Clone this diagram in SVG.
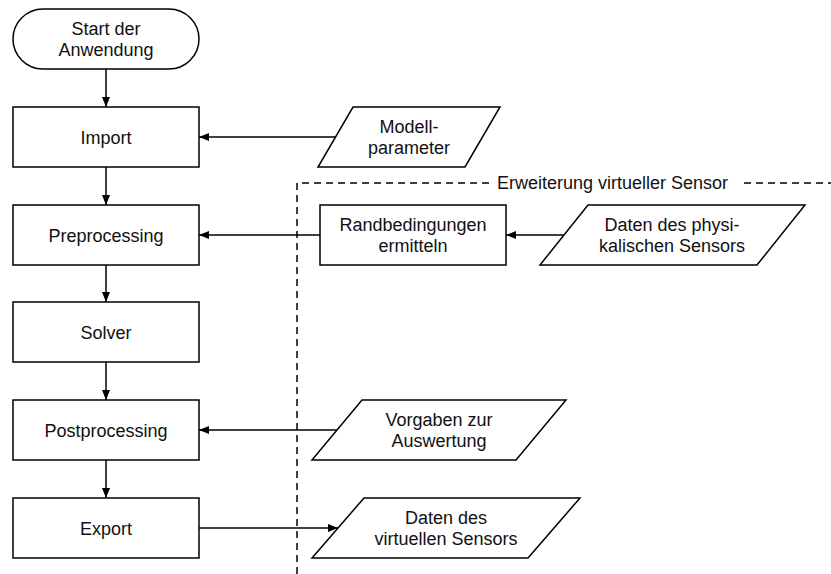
<svg xmlns="http://www.w3.org/2000/svg" width="831" height="574" viewBox="0 0 831 574">
  <defs>
    <marker id="arrow" markerUnits="userSpaceOnUse" markerWidth="10" markerHeight="8" refX="10" refY="4" orient="auto">
      <path d="M0,0 L10,4 L0,8 z" fill="#000"/>
    </marker>
    <style>
      .shape { fill: #fff; stroke: #000; stroke-width: 1.5; }
      .conn { fill: none; stroke: #000; stroke-width: 1.5; marker-end: url(#arrow); }
      .dash { fill: none; stroke: #000; stroke-width: 1.5; stroke-dasharray: 7 5; }
      text { font-family: "Liberation Sans", Arial, sans-serif; font-size: 18px; fill: #111; text-anchor: middle; }
      .lbl { text-anchor: start; }
    </style>
  </defs>
  <rect width="831" height="574" fill="#fff"/>

  <g id="region">
    <path class="dash" d="M297,574 L297,183 L490,183"/>
    <path class="dash" d="M744,183 L831,183"/>
    <text class="lbl" x="497" y="189">Erweiterung virtueller Sensor</text>
  </g>

  <g id="connectors">
    <line class="conn" x1="106" y1="69" x2="106" y2="107"/>
    <line class="conn" x1="106" y1="167" x2="106" y2="205"/>
    <line class="conn" x1="106" y1="265" x2="106" y2="302"/>
    <line class="conn" x1="106" y1="362" x2="106" y2="400"/>
    <line class="conn" x1="106" y1="460" x2="106" y2="498"/>
    <line class="conn" x1="336" y1="137" x2="199" y2="137"/>
    <line class="conn" x1="320" y1="235" x2="199" y2="235"/>
    <line class="conn" x1="564" y1="235" x2="506" y2="235"/>
    <line class="conn" x1="337" y1="430" x2="199" y2="430"/>
    <line class="conn" x1="199" y1="528" x2="338" y2="528"/>
  </g>

  <g id="start">
    <rect class="shape" x="13" y="9" width="186" height="60" rx="30" ry="30"/>
    <text x="106" y="35">Start der</text>
    <text x="106" y="56">Anwendung</text>
  </g>
  <g id="import">
    <rect class="shape" x="13" y="107" width="186" height="60"/>
    <text x="106" y="143.5">Import</text>
  </g>
  <g id="preprocessing">
    <rect class="shape" x="13" y="205" width="186" height="60"/>
    <text x="106" y="241.5">Preprocessing</text>
  </g>
  <g id="solver">
    <rect class="shape" x="13" y="302" width="186" height="60"/>
    <text x="106" y="338.5">Solver</text>
  </g>
  <g id="postprocessing">
    <rect class="shape" x="13" y="400" width="186" height="60"/>
    <text x="106" y="436.5">Postprocessing</text>
  </g>
  <g id="export">
    <rect class="shape" x="13" y="498" width="186" height="60"/>
    <text x="106" y="534.5">Export</text>
  </g>

  <g id="modellparameter">
    <polygon class="shape" points="353,107 500,107 465,167 318,167"/>
    <text x="409" y="133">Modell-</text>
    <text x="409" y="154">parameter</text>
  </g>
  <g id="randbedingungen">
    <rect class="shape" x="320" y="205" width="186" height="60"/>
    <text x="413" y="231">Randbedingungen</text>
    <text x="413" y="252">ermitteln</text>
  </g>
  <g id="daten-physikalisch">
    <polygon class="shape" points="588,205 805,205 757,265 540,265"/>
    <text x="672" y="231">Daten des physi-</text>
    <text x="672" y="252">kalischen Sensors</text>
  </g>
  <g id="vorgaben">
    <polygon class="shape" points="362,400 566,400 516,460 312,460"/>
    <text x="439" y="426">Vorgaben zur</text>
    <text x="439" y="447">Auswertung</text>
  </g>
  <g id="daten-virtuell">
    <polygon class="shape" points="364,498 580,498 528,558 312,558"/>
    <text x="446" y="524">Daten des</text>
    <text x="446" y="545">virtuellen Sensors</text>
  </g>
</svg>
